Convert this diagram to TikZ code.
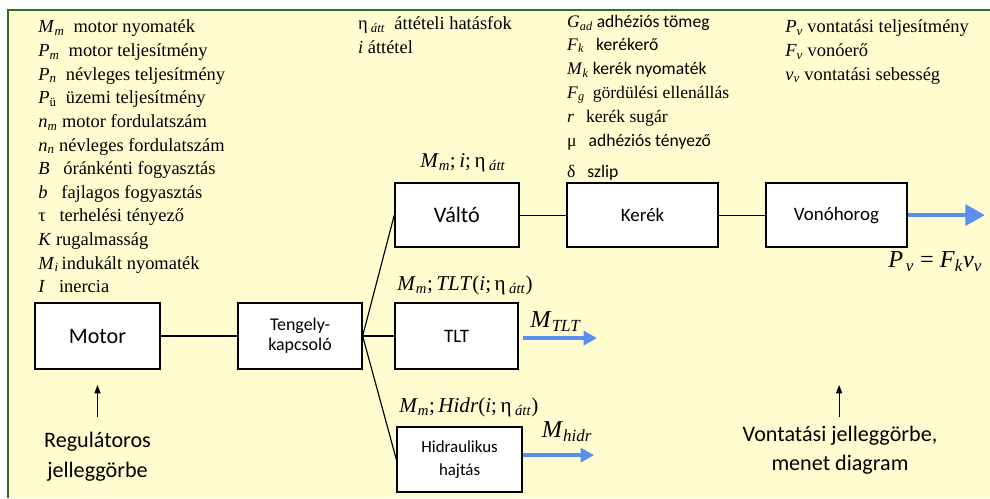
\documentclass[tikz,border=0pt]{standalone}
\usepackage{amsmath}
\usepackage{fontspec}
\setmainfont{Liberation Serif}
\setsansfont{Carlito}
\usetikzlibrary{arrows.meta}

\definecolor{paper}{RGB}{255,253,208}
\definecolor{frame}{RGB}{52,112,32}
\definecolor{flowc}{RGB}{88,144,238}

% italic symbol with italic index
\newcommand\jel[2]{{\rmfamily\textit{#1}\textsubscript{\textit{#2}}}}
\newcommand\att{η\,\textsubscript{\textit{átt}}}

\tikzset{
  block/.style={draw, line width=1.3pt, fill=white, inner sep=0pt, align=center},
  conn/.style={line width=1.1pt},
  legend/.style={anchor=base west, inner sep=0pt, font=\fontsize{17.5}{21}\selectfont},
  sflegend/.style={anchor=base west, inner sep=0pt, font=\sffamily\fontsize{16.7}{20}\selectfont},
  mlabel/.style={inner sep=0pt, font=\fontsize{20}{24}\selectfont},
  note/.style={inner sep=0pt, align=center, font=\sffamily\fontsize{21}{28}\selectfont},
  flow/.style={draw=flowc, line width=4.5pt, -{Triangle[length=0.45cm,width=0.47cm]}},
  bigflow/.style={flow, -{Triangle[length=0.65cm,width=0.68cm]}},
  pointer/.style={line width=1.1pt, -{Triangle[length=0.28cm,width=0.2cm]}}
}

\begin{document}
\begin{tikzpicture}
    \useasboundingbox (0,0) rectangle (33,16.6);
    % Background and frame
    \fill[paper] (0.267,0) rectangle (33,16.267);
    \draw[frame, line width=1.6pt] (0.267,0) -- (0.267,16.267) -- (33,16.267);

    % Motor quantities
    \foreach \txt [count=\k] in {
        {\jel{M}{m}\ \ motor nyomaték},
        {\jel{P}{m}\ \ motor teljesítmény},
        {\jel{P}{n}\ \ névleges teljesítmény},
        {\textit{P}\textsubscript{ü}\ \ üzemi teljesítmény},
        {\jel{n}{m}\ motor fordulatszám},
        {\jel{n}{n}\ névleges fordulatszám},
        {\textit{B}\ \ \ óránkénti fogyasztás},
        {\textit{b}\ \ \ fajlagos fogyasztás},
        {τ\ \ \ terhelési tényező},
        {\textit{K}\ rugalmasság},
        {\jel{M}{i}\,indukált nyomaték},
        {\textit{I}\ \ \ inercia}}
    {
        \node[legend] (mot\k) at (1.27, {15.5-0.787*(\k-1)}) {\txt};
    }

    % Gearbox quantities
    \node[legend] (gear1) at (11.93,15.6) {\att\ \ áttételi hatásfok};
    \node[legend] (gear2) at (11.93,14.83) {\textit{i} áttétel};

    % Wheel quantities
    \foreach \txt/\y [count=\k] in {
        {\jel{G}{ad} adhéziós tömeg}/15.67,
        {\jel{F}{k}\ \ \ kerékerő}/14.93,
        {\jel{M}{k} kerék nyomaték}/14.1,
        {\jel{F}{g}\ \ {\rmfamily gördülési ellenállás}}/13.33,
        {{\rmfamily\textit{r}}\ \ \ {\rmfamily kerék sugár}}/12.5,
        {{\rmfamily μ}\ \ \ adhéziós tényező}/11.7,
        {{\rmfamily δ}\ \ \ szlip}/10.67}
    {
        \node[sflegend] (whl\k) at (18.9,\y) {\txt};
    }

    % Traction quantities
    \node[legend] (trc1) at (26.17,15.5) {\jel{P}{v} vontatási teljesítmény};
    \node[legend] (trc2) at (26.17,14.7) {\jel{F}{v} vonóerő};
    \node[legend] (trc3) at (26.17,13.93) {\jel{v}{v} vontatási sebesség};

    % Blocks
    \node[block, minimum width=4.17cm, minimum height=2.2cm, font=\sffamily\fontsize{21}{25}\selectfont] (motor) at (3.25,5.4) {Motor};
    \node[block, minimum width=4.13cm, minimum height=2.2cm, font=\sffamily\fontsize{17}{19}\selectfont] (tengely) at (10.0,5.4) {Tengely-\\kapcsoló};
    \node[block, minimum width=4.1cm, minimum height=2.2cm, font=\sffamily\fontsize{18}{21}\selectfont] (tlt) at (15.22,5.4) {TLT};
    \node[block, minimum width=4.13cm, minimum height=2.13cm, font=\sffamily\fontsize{21}{25}\selectfont] (valto) at (15.23,9.43) {Váltó};
    \node[block, minimum width=5.03cm, minimum height=2.13cm, font=\sffamily\fontsize{18}{21}\selectfont] (kerek) at (21.42,9.43) {Kerék};
    \node[block, minimum width=4.7cm, minimum height=2.13cm, font=\sffamily\fontsize{18}{21}\selectfont] (vono) at (27.88,9.43) {Vonóhorog};
    \node[block, minimum width=4.17cm, minimum height=2.17cm, font=\sffamily\fontsize{16}{21}\selectfont] (hidr) at (15.32,1.28) {Hidraulikus\\hajtás};

    % Shafts
    \draw[conn] (motor) -- (tengely);
    \draw[conn] (tengely.east) -- (tlt.west);
    \draw[conn] (tengely.east) -- (valto.west);
    \draw[conn] (tengely.east) -- (hidr.west);
    \draw[conn] (valto) -- (kerek);
    \draw[conn] (kerek) -- (vono);

    % Labels on the branches
    \node[mlabel] (lvalto) at (15.43,11.17) {\jel{M}{m};\,\textit{i};\,\att};
    \node[mlabel] (ltlt) at (15.5,7.1) {\jel{M}{m};\,\textit{TLT}(\textit{i};\,\att)};
    \node[mlabel] (lhidr) at (15.63,3.03) {\jel{M}{m};\,\textit{Hidr}(\textit{i};\,\att)};
    \node[mlabel, font=\fontsize{23}{27}\selectfont] (mtlt) at (18.53,5.87) {\jel{M}{TLT}};
    \node[mlabel, font=\fontsize{23}{27}\selectfont] (mhidr) at (18.9,2.2) {\jel{M}{hidr}};
    \node[mlabel, font=\fontsize{23}{27}\selectfont] (pv) at (31.17,7.87) {\jel{P}{\,v} = \jel{F}{k}\jel{v}{v}};

    % Outputs
    \coordinate (tltend) at (19.9,5.33);
    \coordinate (hidrend) at (19.8,1.43);
    \coordinate (vonoend) at (32.83,9.43);
    \draw[flow] ([xshift=4pt]tlt.east |- tltend) -- (tltend);
    \draw[flow] (hidr.east |- hidrend) -- (hidrend);
    \draw[bigflow] (vono.east) -- (vonoend);

    % Characteristic curves
    \node[note] (reg) at (3.25,1.37) {Regulátoros\\jelleggörbe};
    \node[note] (vont) at (28.0,1.6) {Vontatási jelleggörbe,\\menet diagram};
    \coordinate (regtip) at (3.25,3.77);
    \coordinate (regtail) at (3.25,2.7);
    \coordinate (vonttip) at (27.97,3.77);
    \coordinate (vonttail) at (27.97,2.7);
    \draw[pointer] (regtail) -- (regtip);
    \draw[pointer] (vonttail) -- (vonttip);
\end{tikzpicture}
\end{document}
